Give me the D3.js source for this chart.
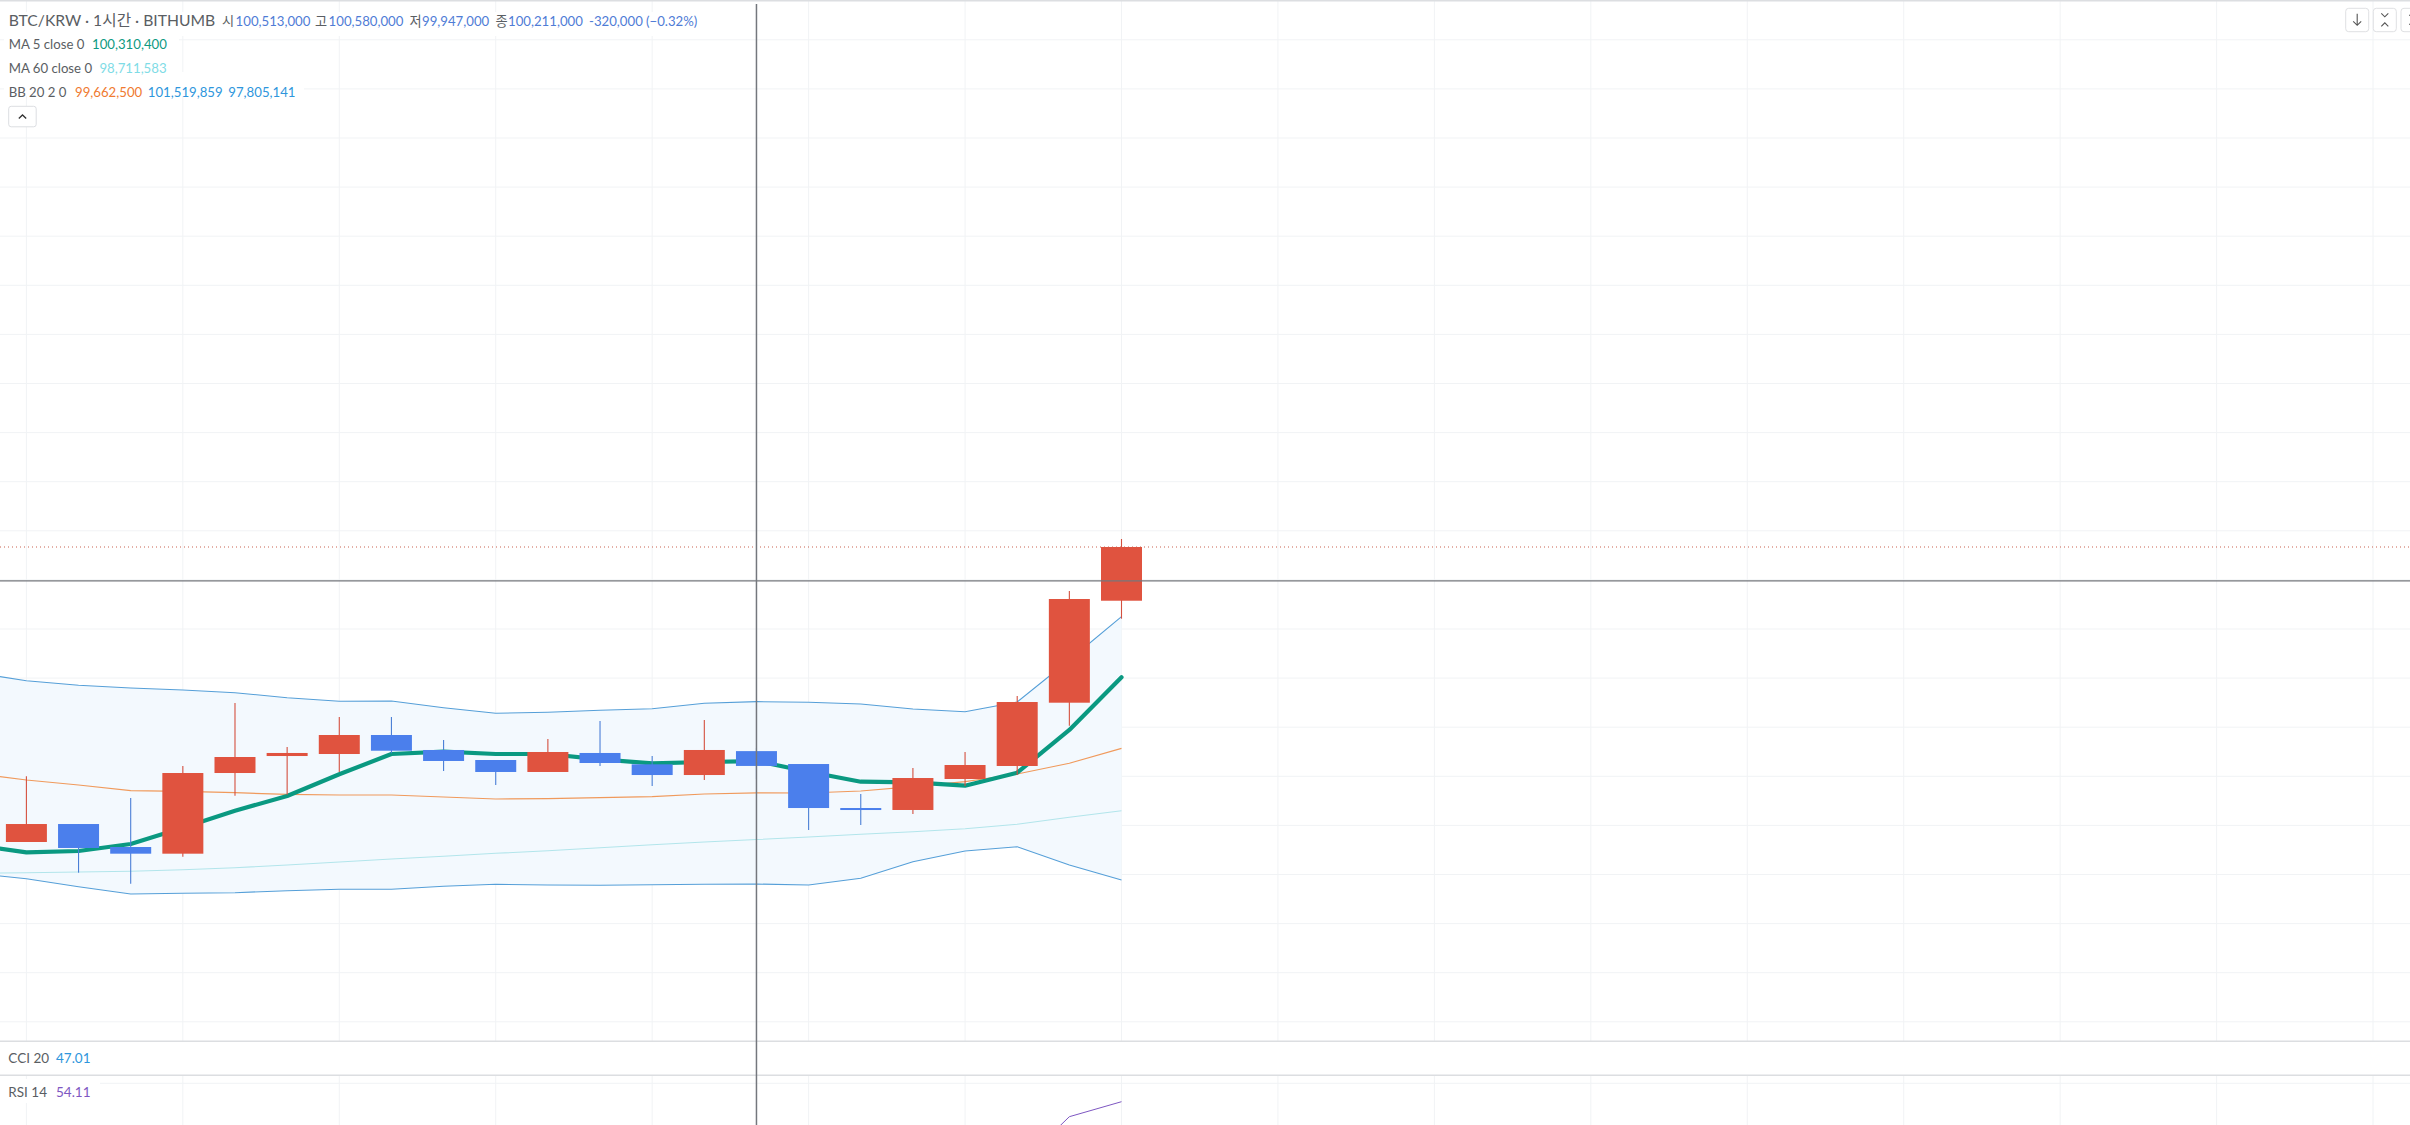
<!DOCTYPE html>
<html><head><meta charset="utf-8">
<script src="https://cdn.jsdelivr.net/npm/d3@7"></script>
<style>html,body{margin:0;padding:0;background:#fff;overflow:hidden}svg{display:block}
text{font-family:Lato,"Noto Sans CJK KR",sans-serif}</style></head><body><div id="c"></div>
<script>
const opens  =[98662000,99028000,98560000,98424000,100067000,100413000,100454000,100841000,100536000,100332000,100088000,100475000,100244000,100026000,100513000,100250000,99354000,99314000,99945000,100210000,101499000,103576000];
const closes =[99028000,98540000,98424000,100067000,100393000,100475000,100841000,100521000,100312000,100088000,100495000,100271000,100026000,100536000,100211000,99354000,99314000,99965000,100230000,101513000,103611000,104670000];
const highs  =[100000000,99028000,99558000,100210000,101493000,100597000,101208000,101208000,100739000,100332000,100760000,101126000,100413000,101147000,100580000,100250000,99640000,100169000,100495000,101635000,103774000,104833000];
const lows   =[98662000,98037000,97813000,98363000,99605000,99625000,100088000,100468000,100108000,99823000,100088000,100210000,99802000,99925000,99947000,98906000,99008000,99232000,99802000,100026000,101031000,103210000];
// indicator series start one candle before the first visible candle
const ma5    =[98601000,98452000,98479000,98621000,98953000,99299000,99599000,100041000,100454000,100501000,100454000,100454000,100346000,100265000,100291000,100310400,100094000,99890000,99878000,99809000,100073000,100943000,102016000];
const ma60   =[98024000,98037000,98051000,98065000,98098000,98138000,98193000,98255000,98316000,98371000,98432000,98485000,98546000,98607000,98662000,98711583,98764000,98819000,98872000,98933000,99022000,99165000,99299000];
const bbMid  =[100061000,99925000,99823000,99707000,99694000,99666000,99633000,99619000,99619000,99578000,99538000,99544000,99564000,99585000,99640000,99662500,99660000,99701000,99788000,99890000,100047000,100265000,100570000];
const bbUpper=[102110000,101947000,101853000,101798000,101758000,101703000,101601000,101528000,101534000,101397000,101283000,101303000,101344000,101377000,101487000,101519859,101507000,101473000,101371000,101316000,101513000,102369000,103251000];
const bbLower=[98024000,97914000,97752000,97603000,97617000,97629000,97670000,97699000,97699000,97760000,97800000,97786000,97780000,97792000,97800000,97805141,97786000,97923000,98261000,98479000,98566000,98193000,97888000];
const rsiIdx =[19,20,21];
const rsiVals=[48,73.3,80.8];
const gridPrices=d3.range(85000000,116000000,1000000);
const lastPrice=104670000, crossPrice=103982000, crossIndex=14;

const W=2410,H=1125;
const svg=d3.select('#c').append('svg').attr('width',W).attr('height',H);
const x=d3.scaleLinear().domain([0,21]).range([26.4,1121.5]);
const y=d3.scaleLinear().domain([100000000,101000000]).range([776.3,727.2]);
const yR=d3.scaleLinear().domain([90,80]).range([1083.3,1103.3]);
const mainH=1041, rsiTop=1075;
const c={grid:'#f1f3f5',div:'#dcdee1',red:'#e0533f',blue:'#4b7fec',redW:'#d4503f',blueW:'#4a7fd6',ma5:'#0a9981',ma60:'#b2e5eb',mid:'#f09a5c',bb:'#559fd8',fill:'#f3f9fe',cross:'#74777d',text:'#5a5e63'};
svg.append('rect').attr('width',W).attr('height',H).attr('fill','#fff');
const clip=svg.append('defs');
clip.append('clipPath').attr('id','cm').append('rect').attr('width',W).attr('height',mainH);
clip.append('clipPath').attr('id','cr').append('rect').attr('y',rsiTop).attr('width',W).attr('height',H-rsiTop);
const mg=svg.append('g').attr('clip-path','url(#cm)');
const indexTicks=d3.range(-3,48,3);
mg.selectAll('.v').data(indexTicks).join('line').attr('x1',d=>x(d)).attr('x2',d=>x(d)).attr('y1',0).attr('y2',mainH).attr('stroke',c.grid);
mg.selectAll('.h').data(gridPrices).join('line').attr('x1',0).attr('x2',W).attr('y1',d=>y(d)).attr('y2',d=>y(d)).attr('stroke',c.grid);
const rg=svg.append('g').attr('clip-path','url(#cr)');
rg.selectAll('.v').data(indexTicks).join('line').attr('x1',d=>x(d)).attr('x2',d=>x(d)).attr('y1',rsiTop).attr('y2',H).attr('stroke',c.grid);
rg.append('line').attr('x1',0).attr('x2',W).attr('y1',yR(90)).attr('y2',yR(90)).attr('stroke',c.grid);
// indicators
const idx=i=>x(i-1);
mg.append('path').attr('d',d3.area().x((d,i)=>idx(i)).y0(d=>y(d)).y1((d,i)=>y(bbLower[i]))(bbUpper)).attr('fill',c.fill);
const ln=d3.line().x((d,i)=>idx(i)).y(d=>y(d));
[[ma60,c.ma60,1.1],[bbUpper,c.bb,1.1],[bbLower,c.bb,1.1],[bbMid,c.mid,1.2]].forEach(([s,col,w])=>mg.append('path').attr('d',ln(s)).attr('fill','none').attr('stroke',col).attr('stroke-width',w));
mg.append('path').attr('d',ln(ma5)).attr('fill','none').attr('stroke',c.ma5).attr('stroke-width',4.2).attr('stroke-linejoin','round').attr('stroke-linecap','round');
// candles
const bw=41;
const data=opens.map((o,i)=>({i,o,c:closes[i],h:highs[i],l:lows[i]}));
const g=mg.selectAll('.cd').data(data).join('g');
g.append('line').attr('x1',d=>x(d.i)).attr('x2',d=>x(d.i)).attr('y1',d=>y(d.h)).attr('y2',d=>y(d.l)).attr('stroke',d=>d.c>=d.o?c.redW:c.blueW).attr('stroke-width',1.1);
g.append('rect').attr('x',d=>x(d.i)-bw/2).attr('width',bw).attr('y',d=>y(Math.max(d.o,d.c))).attr('height',d=>Math.max(2,Math.abs(y(d.o)-y(d.c)))).attr('fill',d=>d.c>=d.o?c.red:c.blue);
// last price dotted
mg.append('line').attr('x1',0).attr('x2',W).attr('y1',y(lastPrice)).attr('y2',y(lastPrice)).attr('stroke','#c9604f').attr('stroke-width',1).attr('stroke-dasharray','1 3');
// RSI
rg.append('path').attr('d',d3.line().x((d,i)=>x(rsiIdx[i])).y(d=>yR(d))(rsiVals)).attr('fill','none').attr('stroke','#7e57c2').attr('stroke-width',1);
// dividers
[0.5,1041.3,1075.3].forEach(v=>svg.append('line').attr('x1',0).attr('x2',W).attr('y1',v).attr('y2',v).attr('stroke',c.div).attr('stroke-width',v<1?2:1.5));
// crosshair
svg.append('line').attr('x1',x(crossIndex)).attr('x2',x(crossIndex)).attr('y1',4).attr('y2',H).attr('stroke',c.cross).attr('stroke-width',1.5);
svg.append('line').attr('x1',0).attr('x2',W).attr('y1',y(crossPrice)).attr('y2',y(crossPrice)).attr('stroke',c.cross).attr('stroke-width',1.3);
// legend
const T=(tx,ty,s,col,fs)=>svg.append('text').attr('x',tx).attr('y',ty).attr('fill',col).attr('font-size',fs||13.2).text(s);
const bl='#4f7cd6';
[[0,24,720],[4,36,175],[4,60,175],[4,84,300]].forEach(r=>svg.append('rect').attr('x',r[0]).attr('y',r[1]-12).attr('width',r[2]).attr('height',24).attr('fill','#fff'));
T(8.7,25.5,'BTC/KRW · 1시간 · BITHUMB',c.text,15.7);
[['시',222],['고',315],['저',409.6],['종',495.4]].forEach(a=>T(a[1],25.5,a[0],c.text));
[['100,513,000',235.6],['100,580,000',328.6],['99,947,000',422],['100,211,000',508],['-320,000',589],['(−0.32%)',646]].forEach(a=>T(a[1],25.5,a[0],bl));
T(8.7,48.7,'MA 5 close 0',c.text); T(92,48.7,'100,310,400','#0e9a82');
T(8.7,72.7,'MA 60 close 0',c.text); T(99.4,72.7,'98,711,583','#7fdce6');
T(8.7,97,'BB 20 2 0',c.text); T(75,97,'99,662,500','#f07a30'); T(147.8,97,'101,519,859','#2e96dc'); T(228.3,97,'97,805,141','#2e96dc');
svg.append('rect').attr('x',8.7).attr('y',106.3).attr('width',27.5).attr('height',20.5).attr('rx',2.5).attr('fill','#fff').attr('stroke','#dcdee2');
svg.append('path').attr('d','M18.8 118.5 L22.5 115 L26.2 118.5').attr('fill','none').attr('stroke','#333').attr('stroke-width',1.3);
svg.append('rect').attr('x',0).attr('y',1047).attr('width',100).attr('height',24).attr('fill','#fff');
svg.append('rect').attr('x',0).attr('y',1079).attr('width',100).attr('height',24).attr('fill','#fff');
T(8.3,1063,'CCI 20',c.text,13.5); T(56,1063,'47.01','#2e96dc',13.5);
T(8.3,1097,'RSI 14',c.text,13.5); T(56,1097,'54.11','#7e57c2',13.5);
// top-right buttons
const btn=(bx,by,d)=>{svg.append('rect').attr('x',bx).attr('y',by).attr('width',23).attr('height',23.4).attr('rx',3).attr('fill','#fff').attr('stroke','#dfe0e3');
 svg.append('path').attr('d',d).attr('fill','none').attr('stroke','#555').attr('stroke-width',1.1).attr('transform',`translate(${bx},${by})`);};
btn(2345.7,8.3,'M11.5 5.5 V17 M7.5 13 L11.5 17 L15.5 13');
btn(2373.3,8.3,'M8 5 L11.5 8.5 L15 5 M8 18 L11.5 14.5 L15 18');
btn(2401,8.3,'M8 7 H15 V16 H8');
</script></body></html>
